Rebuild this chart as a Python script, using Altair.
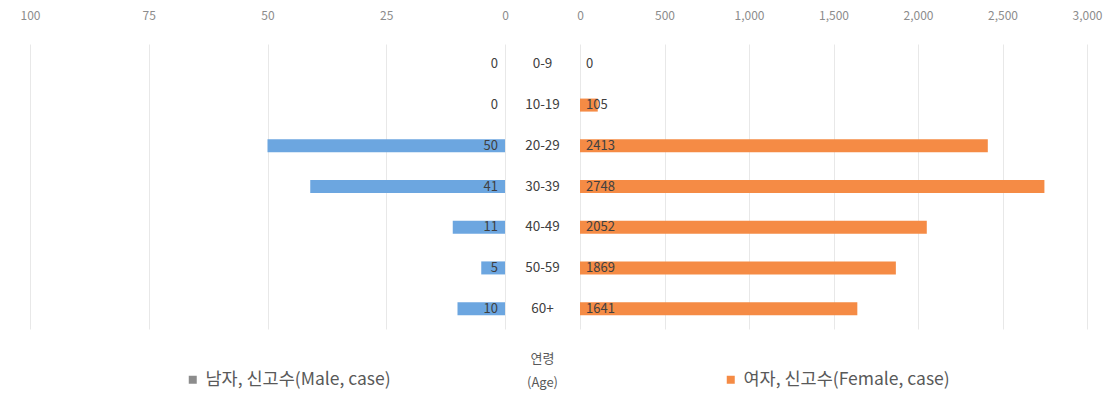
import altair as alt
import pandas as pd

ages = ["0-9", "10-19", "20-29", "30-39", "40-49", "50-59", "60+"]
male = [0, 0, 50, 41, 11, 5, 10]
female = [0, 105, 2413, 2748, 2052, 1869, 1641]
male_ticks = [0, 25, 50, 75, 100]
female_ticks = [0, 500, 1000, 1500, 2000, 2500, 3000]
male_name = "남자, 신고수(Male, case)"
female_name = "여자, 신고수(Female, case)"

FONT = "Noto Sans CJK KR"
BLUE = "#6CA6E0"
ORANGE = "#F58B45"
LEG_GRAY = "#8c8c8c"

df = pd.DataFrame({"age": ages, "male": male, "female": female})
df["ms"] = male_name
df["fs"] = female_name
df["zero"] = 0

H = 285
ysc = alt.Y("age:N", sort=ages, axis=None, scale=alt.Scale(paddingInner=0.68, paddingOuter=0.34))

axis_common = dict(orient="top", domain=False, ticks=False, labelColor="#8c8c8c",
                   labelFontSize=12, labelFont=FONT, labelPadding=22, labelFlush=False,
                   gridColor="#e8e8e8", grid=True, title=None)

leg_common = dict(title=None, orient="none", legendY=327, symbolType="square",
                  symbolSize=64, symbolStrokeWidth=0, symbolOpacity=1, labelFont=FONT,
                  labelFontSize=17.5, labelLimit=500,
                  labelColor="#595959", padding=0, labelOffset=4)

male_bars = alt.Chart(df).mark_bar(color=BLUE).encode(
    x=alt.X("male:Q", scale=alt.Scale(domain=[0, 100], reverse=True),
            axis=alt.Axis(values=male_ticks, **axis_common)),
    y=ysc,
)
male_text = alt.Chart(df).mark_text(align="right", dx=-7, font=FONT, fontSize=13,
                                    color="#404040").encode(
    x=alt.X("zero:Q", axis=None), y=ysc, text="male:Q"
)
male_legend = alt.Chart(df).transform_filter("false").mark_square(opacity=1).encode(
    color=alt.Color("ms:N", scale=alt.Scale(domain=[male_name], range=[LEG_GRAY]),
                    legend=alt.Legend(legendX=154, **leg_common))
)
male_chart = (male_bars + male_text + male_legend).resolve_axis(x="independent").properties(
    width=475, height=H)

mid = alt.Chart(df).mark_text(font=FONT, fontSize=13.5, color="#404040").encode(
    y=ysc, text="age:N"
).properties(width=67, height=H,
             title=alt.TitleParams(["연령", "(Age)"], orient="bottom", font=FONT,
                                   fontSize=13, fontWeight="normal", color="#595959",
                                   offset=24, lineHeight=24))

female_bars = alt.Chart(df).mark_bar(color=ORANGE).encode(
    x=alt.X("female:Q", scale=alt.Scale(domain=[0, 3000]),
            axis=alt.Axis(values=female_ticks, format=",.0f", **axis_common)),
    y=ysc,
)
female_text = alt.Chart(df).mark_text(align="left", dx=6, font=FONT, fontSize=13,
                                      color="#404040").encode(
    x=alt.X("zero:Q", axis=None), y=ysc, text="female:Q"
)
female_legend = alt.Chart(df).transform_filter("false").mark_square(opacity=1).encode(
    color=alt.Color("fs:N", scale=alt.Scale(domain=[female_name], range=[ORANGE]),
                    legend=alt.Legend(legendX=142, **leg_common))
)
female_chart = (female_bars + female_text + female_legend).resolve_axis(
    x="independent").properties(width=507, height=H)

chart = alt.hconcat(male_chart, mid, female_chart, spacing=0).resolve_scale(
    color="independent", x="independent"
).properties(padding={"left": 20, "top": 9, "right": 5, "bottom": 5}).configure(
    background="white"
).configure_view(stroke=None)

chart.save("out.html", embed_options={"renderer": "svg", "actions": False})
